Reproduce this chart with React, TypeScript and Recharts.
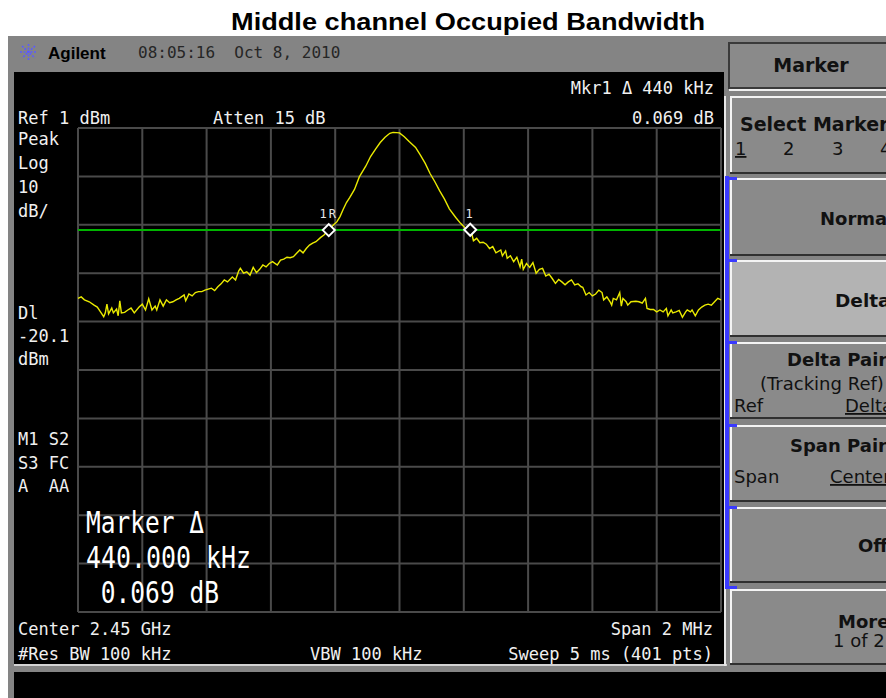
import React from 'react';
import { LineChart, Line, XAxis, YAxis, CartesianGrid, ReferenceLine, ReferenceDot } from 'recharts';

// ---- data (frequency offset from 2.45 GHz centre, kHz) ----
const freqKHz = [
  -1000, -990, -980, -965, -950, -940, -930, -920, -915, -910,
  -905, -895, -890, -880, -875, -870, -865, -855, -845, -835,
  -825, -810, -800, -790, -780, -770, -760, -755, -745, -735,
  -725, -715, -705, -695, -685, -670, -665, -655, -645, -635,
  -625, -615, -605, -595, -585, -575, -565, -555, -545, -535,
  -520, -510, -500, -495, -485, -475, -465, -455, -445, -435,
  -425, -415, -405, -395, -380, -370, -360, -350, -340, -330,
  -320, -310, -300, -290, -280, -270, -260, -245, -235, -225,
  -220, -205, -195, -185, -175, -165, -155, -140, -125, -105,
  -90, -75, -60, -45, -30, -20, 0, 15, 30, 50,
  65, 80, 95, 110, 125, 140, 155, 175, 190, 205,
  220, 225, 230, 240, 250, 260, 270, 280, 290, 300,
  315, 320, 330, 335, 345, 355, 365, 375, 380, 385,
  395, 405, 415, 425, 435, 445, 455, 465, 475, 485,
  495, 505, 515, 525, 535, 545, 555, 565, 570, 580,
  590, 600, 610, 620, 630, 635, 645, 655, 660, 665,
  675, 685, 690, 695, 705, 710, 720, 735, 745, 755,
  765, 770, 780, 790, 800, 810, 820, 830, 835, 845,
  850, 860, 870, 880, 890, 895, 905, 910, 920, 930,
  940, 950, 960, 970, 980, 990, 1000,
];
const levelDbm = [
  -34.2, -33.9, -34.5, -34.9, -35.6, -36.0, -37.0, -38.0, -37.2, -35.4,
  -37.4, -36.2, -37.2, -36.4, -37.8, -34.7, -37.2, -37.1, -36.6, -36.2,
  -37.2, -36.0, -35.4, -36.6, -34.3, -36.6, -35.8, -36.6, -34.5, -35.8,
  -34.5, -35.1, -34.9, -34.5, -34.2, -33.5, -34.7, -33.3, -33.7, -33.0,
  -32.8, -32.8, -32.5, -32.3, -32.1, -32.6, -31.8, -31.2, -30.4, -30.8,
  -29.8, -30.4, -28.5, -28.0, -29.0, -28.7, -29.4, -27.8, -28.9, -28.2,
  -27.3, -27.7, -27.0, -26.6, -27.3, -26.3, -26.1, -25.7, -25.8, -25.6,
  -24.9, -24.2, -24.8, -23.9, -23.2, -22.8, -22.5, -21.6, -21.1, -20.4,
  -20.1, -19.0, -18.4, -17.3, -15.8, -14.4, -13.4, -11.7, -9.1, -6.9,
  -4.9, -3.4, -2.0, -0.9, -0.1, 0.1, 0.0, -0.8, -1.8, -3.0,
  -4.6, -6.3, -8.4, -10.1, -12.0, -13.7, -15.7, -17.5, -18.7, -19.7,
  -20.03, -20.9, -22.3, -21.8, -22.7, -22.6, -23.0, -23.9, -23.5, -24.8,
  -24.2, -25.4, -24.4, -25.9, -25.4, -26.6, -25.7, -27.7, -26.1, -28.2,
  -27.0, -27.8, -26.8, -29.0, -28.2, -28.0, -29.6, -29.2, -30.1, -31.1,
  -30.3, -30.8, -31.4, -30.8, -30.4, -31.4, -31.2, -31.8, -31.9, -33.5,
  -33.0, -33.7, -33.3, -32.5, -33.0, -34.5, -33.9, -34.9, -35.6, -34.2,
  -34.5, -33.0, -35.8, -34.2, -34.9, -35.6, -34.9, -34.8, -34.9, -35.2,
  -34.2, -36.3, -36.5, -36.5, -37.0, -36.6, -37.0, -36.3, -37.8, -36.6,
  -37.2, -37.0, -36.7, -38.1, -37.0, -36.6, -37.0, -36.6, -37.8, -36.6,
  -36.0, -35.6, -35.4, -35.6, -34.9, -34.2, -34.5,
];
const xTicks = [-1000, -800, -600, -400, -200, 0, 200, 400, 600, 800, 1000];
const yTicks = [1, -9, -19, -29, -39, -49, -59, -69, -79, -89, -99];
const displayLineDbm = -20.1;
const refMarker = { f: -220, v: -20.1, label: '1R' };
const deltaMarker = { f: 220, v: -20.03, label: '1' };

const leftTop = ['Peak', 'Log', '10', 'dB/'];
const leftMid = ['Dl', '-20.1', 'dBm'];
const leftLow = ['M1 S2', 'S3 FC', 'A  AA'];

const trace = freqKHz.map((f, i) => ({ f, v: levelDbm[i] }));

const MONO = '"DejaVu Sans Mono", "Liberation Mono", monospace';
const SANS = '"Liberation Sans", Arial, sans-serif';
const KEYF = '"DejaVu Sans", "Noto Sans", sans-serif';

type TP = { x: number; y: number; t: string; size?: number; anchor?: 'start' | 'middle' | 'end'; bold?: boolean; fill?: string; family?: string; len?: number; u?: boolean };
function T({ x, y, t, size = 17, anchor = 'start', bold = false, fill = '#f0f0f0', family = MONO, len, u }: TP) {
  return (
    <text x={x} y={y} fontSize={size} fontFamily={family} fontWeight={bold ? 'bold' : 'normal'} fill={fill}
      textAnchor={anchor} textLength={len} lengthAdjust={len ? 'spacingAndGlyphs' : undefined}
      textDecoration={u ? 'underline' : undefined} style={{ whiteSpace: 'pre' }}>{t}</text>
  );
}
function K(p: TP) {
  return <T family={KEYF} fill="#111" size={p.bold ? 18 : 18} {...p} />;
}

function Key({ y1, y2, fill = '#8a8a8a' }: { y1: number; y2: number; fill?: string }) {
  return (
    <g>
      <rect x={730} y={y1} width={170} height={y2 - y1} fill={fill} />
      <rect x={730} y={y1} width={170} height={2} fill="#f4f4f4" />
      <rect x={730} y={y1} width={2} height={y2 - y1} fill="#f4f4f4" />
      <rect x={730} y={y2 - 2} width={170} height={2} fill="#303030" />
    </g>
  );
}

const makeMarker = (label: string) => (props: any) => {
  const { cx, cy } = props;
  return (
    <g>
      <polygon points={`${cx},${cy - 6} ${cx + 6},${cy} ${cx},${cy + 6} ${cx - 6},${cy}`} fill="#000" stroke="#fff" strokeWidth={2} />
      <text x={cx} y={cy - 12} fontSize={12} fontFamily={MONO} fill="#e8e8e8" textAnchor="middle" letterSpacing={2}>{label}</text>
    </g>
  );
};

export default function App() {
  return (
    <div style={{ position: 'absolute', left: 0, top: 0, width: 886, height: 698, overflow: 'hidden', background: '#fff' }}>
      <svg width={886} height={698} style={{ position: 'absolute', left: 0, top: 0 }}>
        <rect x={8} y={36} width={878} height={662} fill="#848484" />
        <rect x={14} y={72} width={710} height={592} fill="#000" />
        <rect x={14} y={664} width={713} height={2} fill="#d4d4d4" />
        <rect x={14} y={672} width={872} height={26} fill="#000" />
        <rect x={724} y={96} width={2} height={570} fill="#e8e8e8" />
        {/* Marker title box */}
        <rect x={729} y={43} width={170} height={45} fill="#8a8a8a" stroke="#3a3a3a" strokeWidth={2} />
        <rect x={729} y={89} width={170} height={2} fill="#f0f0f0" />
        <Key y1={96} y2={174} />
        <Key y1={178} y2={256} />
        <Key y1={260} y2={337} fill="#b3b3b3" />
        <Key y1={342} y2={419} />
        <Key y1={425} y2={502} />
        <Key y1={507} y2={583} />
        <Key y1={589} y2={665} />
        <rect x={725} y={176} width={4} height={412} fill="#3a3aff" />
        {[178, 260, 342, 425, 507, 587].map((y) => (
          <rect key={y} x={725} y={y - 1} width={12} height={3} fill="#3a3aff" />
        ))}
        {/* Agilent logo */}
        <g stroke="#5a5aff" strokeWidth={1.5} strokeDasharray="2 1.5">
          <line x1={20} y1={52} x2={37} y2={52} />
          <line x1={28.5} y1={44} x2={28.5} y2={60} />
          <line x1={22} y1={46} x2={35} y2={58} />
          <line x1={35} y1={46} x2={22} y2={58} />
        </g>
      </svg>

      <div style={{ position: 'absolute', left: 0, top: 0 }}>
        <LineChart width={886} height={698} data={trace} margin={{ top: 128, right: 165, bottom: 86, left: 78 }}>
          <CartesianGrid stroke="#4a4a4a" strokeWidth={2} />
          <XAxis type="number" dataKey="f" domain={[-1000, 1000]} ticks={xTicks} hide />
          <YAxis type="number" domain={[-99, 1]} ticks={yTicks} hide />
          <ReferenceLine y={displayLineDbm} stroke="#00b400" strokeWidth={2} />
          <Line type="linear" dataKey="v" stroke="#eaea00" strokeWidth={1.4} dot={false} isAnimationActive={false} />
          <ReferenceDot x={refMarker.f} y={refMarker.v} shape={makeMarker(refMarker.label)} />
          <ReferenceDot x={deltaMarker.f} y={deltaMarker.v} shape={makeMarker(deltaMarker.label)} />
        </LineChart>
      </div>

      <svg width={886} height={698} style={{ position: 'absolute', left: 0, top: 0, pointerEvents: 'none' }}>
        <T x={468} y={30} t="Middle channel Occupied Bandwidth" size={24} bold family={SANS} fill="#000" anchor="middle" len={474} />
        <T x={48} y={59} t="Agilent" size={17} bold family={SANS} fill="#000" />
        <T x={138} y={58} t="08:05:16  Oct 8, 2010" size={16} fill="#262626" />

        <T x={714} y={94} t="Mkr1 Δ 440 kHz" anchor="end" />
        <T x={18} y={124} t="Ref 1 dBm" />
        <T x={213} y={124} t="Atten 15 dB" />
        <T x={714} y={124} t="0.069 dB" anchor="end" />
        {leftTop.map((s, i) => <T key={s} x={18} y={145 + i * 24} t={s} />)}
        {leftMid.map((s, i) => <T key={s} x={18} y={319 + i * 23} t={s} />)}
        {leftLow.map((s, i) => <T key={s} x={18} y={445 + i * 23.5} t={s} />)}

        <T x={86} y={533} t="Marker Δ" size={30} len={118} fill="#fff" />
        <T x={86} y={568} t="440.000 kHz" size={30} len={165} fill="#fff" />
        <T x={86} y={603} t=" 0.069 dB" size={30} len={133} fill="#fff" />

        <T x={18} y={635} t="Center 2.45 GHz" />
        <T x={18} y={660} t="#Res BW 100 kHz" />
        <T x={310} y={660} t="VBW 100 kHz" />
        <T x={713} y={635} t="Span 2 MHz" anchor="end" />
        <T x={713} y={660} t="Sweep 5 ms (401 pts)" anchor="end" />

        <K x={811} y={72} t="Marker" bold size={19} anchor="middle" />
        <K x={740} y={131} t="Select Marker" bold size={19} />
        <K x={735} y={155} t="1" u />
        <K x={783} y={155} t="2" />
        <K x={832} y={155} t="3" />
        <K x={880} y={155} t="4" />
        <K x={820} y={225} t="Normal" bold />
        <K x={835} y={307} t="Delta" bold size={18.5} />
        <K x={787} y={366} t="Delta Pair" bold />
        <K x={760} y={390} t="(Tracking Ref)" />
        <K x={734} y={412} t="Ref" />
        <K x={845} y={412} t="Delta" u />
        <K x={790} y={452} t="Span Pair" bold />
        <K x={734} y={483} t="Span" />
        <K x={830} y={483} t="Center" u />
        <K x={858} y={552} t="Off" bold />
        <K x={838} y={628} t="More" bold />
        <K x={833} y={647} t="1 of 2" />
      </svg>
    </div>
  );
}
